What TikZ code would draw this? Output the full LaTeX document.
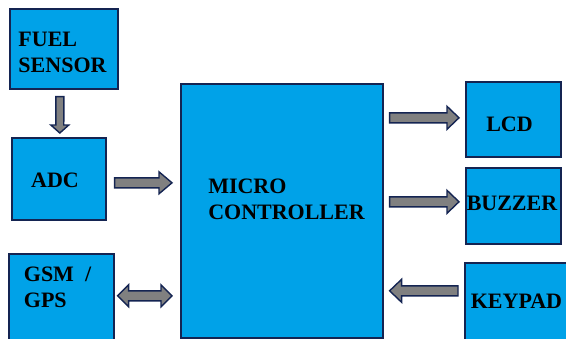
\documentclass[tikz,border=0pt]{standalone}
\usepackage{fontspec}
\setmainfont{Liberation Serif}
\usetikzlibrary{calc}
\definecolor{blockfill}{RGB}{0,162,232}
\definecolor{blockedge}{RGB}{20,36,82}
\definecolor{arrowfill}{RGB}{128,128,128}

\begin{document}
\begin{tikzpicture}[x=1pt,y=-1pt]

\tikzset{
  block/.style={
    draw=blockedge,
    fill=blockfill,
    line width=1.6pt,
    inner sep=0pt
  },
  block text/.style={
    font=\fontsize{22}{26}\selectfont\bfseries,
    align=left,
    inner sep=0pt
  },
  fat arrow/.style={
    draw=blockedge,
    fill=arrowfill,
    line width=1.4pt,
    line join=miter
  }
}

% Each block is specified as:
% \partblock{name}{x}{y}{width}{height}, x and y being the top left corner
\newcommand{\partblock}[5]{%
  \node[block, anchor=north west, minimum width=#4pt, minimum height=#5pt]
    (#1) at (#2,#3) {};
}

% \fatarrow{from}{to}{shaft half width}{head half width}{head length}
\newcommand{\fatarrow}[5]{%
  \pgfmathsetmacro{\shaftd}{veclen(#5,#3)}
  \pgfmathsetmacro{\shafta}{atan2(#3,#5)}
  \pgfmathsetmacro{\headd}{veclen(#5,#4)}
  \pgfmathsetmacro{\heada}{atan2(#4,#5)}
  \filldraw[fat arrow]
    ($(#1)!#3pt!90:(#2)$) -- ($(#2)!\shaftd pt!-\shafta:(#1)$)
    -- ($(#2)!\headd pt!-\heada:(#1)$) -- (#2)
    -- ($(#2)!\headd pt!\heada:(#1)$) -- ($(#2)!\shaftd pt!\shafta:(#1)$)
    -- ($(#1)!#3pt!-90:(#2)$) -- cycle;
}

% Same, with a head at both ends.
\newcommand{\fatdoublearrow}[5]{%
  \pgfmathsetmacro{\shaftd}{veclen(#5,#3)}
  \pgfmathsetmacro{\shafta}{atan2(#3,#5)}
  \pgfmathsetmacro{\headd}{veclen(#5,#4)}
  \pgfmathsetmacro{\heada}{atan2(#4,#5)}
  \filldraw[fat arrow]
    (#1) -- ($(#1)!\headd pt!\heada:(#2)$) -- ($(#1)!\shaftd pt!\shafta:(#2)$)
    -- ($(#2)!\shaftd pt!-\shafta:(#1)$) -- ($(#2)!\headd pt!-\heada:(#1)$)
    -- (#2)
    -- ($(#2)!\headd pt!\heada:(#1)$) -- ($(#2)!\shaftd pt!\shafta:(#1)$)
    -- ($(#1)!\shaftd pt!-\shafta:(#2)$) -- ($(#1)!\headd pt!-\heada:(#2)$)
    -- cycle;
}

\useasboundingbox (0,0) rectangle (566,338);
\clip (0,0) rectangle (566,338);

% Blocks.
\partblock{fuel}{9}{8}{108}{80}
\partblock{adc}{11}{137}{94}{82}
\partblock{gsm}{8}{253}{105}{92}
\partblock{mc}{180}{83}{202}{254}
\partblock{lcd}{465}{81}{95}{75}
\partblock{buzzer}{465}{167}{95}{76}
\partblock{keypad}{464}{262}{106}{80}

% Block texts.
\node[block text] (fueltext) at (62.5,52) {FUEL\\SENSOR};
\node[block text] (adctext) at (55,180) {ADC};
\node[block text] (gsmtext) at (57.5,287) {GSM~~/\\GPS};
\node[block text] (mctext) at (286.5,199) {MICRO\\CONTROLLER};
\node[block text] (lcdtext) at (509.5,124) {LCD};
\node[block text] (buzzertext) at (512,203) {BUZZER};
\node[block text] (keypadtext) at (516.5,301) {KEYPAD};

% Arrow ends.
\coordinate (fuelout) at ($(fuel.south)+(-4,7)$);
\coordinate (adcin) at ($(adc.north)+(1,-4)$);
\coordinate (adcout) at ($(adc.east)+(8,4)$);
\coordinate (mcinadc) at ($(mc.west |- adcout)+(-8,0)$);
\coordinate (gsmport) at ($(gsm.east)+(3,-4)$);
\coordinate (mcportgsm) at ($(mc.west |- gsmport)+(-8,0)$);
\coordinate (lcdin) at ($(lcd.west)+(-6,-1.5)$);
\coordinate (mcoutlcd) at ($(mc.east |- lcdin)+(6,0)$);
\coordinate (buzzerin) at ($(buzzer.west)+(-6,-4)$);
\coordinate (mcoutbuzzer) at ($(mc.east |- buzzerin)+(6,0)$);
\coordinate (keypadout) at ($(keypad.west)+(-6,-12)$);
\coordinate (mcinkeypad) at ($(mc.east |- keypadout)+(6,0)$);

% Arrows.
\fatarrow{fuelout}{adcin}{4}{9}{8}
\fatarrow{adcout}{mcinadc}{5}{11}{13}
\fatdoublearrow{gsmport}{mcportgsm}{5}{11}{11}
\fatarrow{mcoutlcd}{lcdin}{5}{11.5}{12}
\fatarrow{mcoutbuzzer}{buzzerin}{5}{11.5}{12}
\fatarrow{keypadout}{mcinkeypad}{5}{11.5}{12}

\end{tikzpicture}
\end{document}
